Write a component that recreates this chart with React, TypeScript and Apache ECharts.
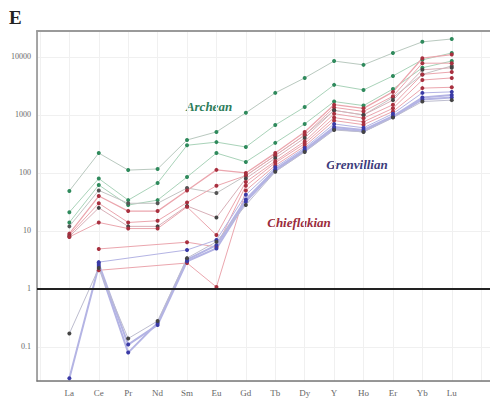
import React, { useEffect, useRef } from "react";
import * as echarts from "echarts";

const elements = ["La", "Ce", "Pr", "Nd", "Sm", "Eu", "Gd", "Tb", "Dy", "Y", "Ho", "Er", "Yb", "Lu"];
const yTickLabels: Record<string, string> = { "-1": "0.1", "0": "1", "1": "10", "2": "100", "3": "1000", "4": "10000" };

// Archean
const archean1 = [49, 220, 112, 117, 370, 510, 1090, 2400, 4350, 8500, 7300, 11700, 18200, 20400];
const archean2 = [21, 80, 34, 67, 300, 340, 280, 670, 1370, 3300, 2700, 4700, 8900, 11700];
const archean3 = [14, 62, 28, 34, 85, 220, 155, 330, 700, 1700, 1450, 2800, 6500, 8500];
const archean4 = [12, 50, 30, 30, 55, 45, 90, 200, 450, 1200, 1000, 2000, 5000, 7000];
// Chieflakian
const chief1 = [9, 40, 22, 22, 50, 113, 100, 220, 510, 1500, 1300, 2500, 9500, 11000];
const chief2 = [8.5, 30, 14, 15, 31, 60, 90, 200, 450, 1350, 1150, 2100, 7800, 7800];
const chief3 = [8, 25, 12, 12, 27, 17, 80, 180, 400, 1200, 1000, 1800, 6000, 6500];
const chief4 = [7.9, 14, 11, 11, 26, 8.5, 70, 160, 350, 1050, 880, 1500, 5000, 5500];
const chief5 = [null, 4.9, null, null, 6.4, 5.3, 60, 150, 320, 900, 760, 1300, 4000, 4350];
const chief6 = [null, 2.1, null, null, 2.8, 1.08, 50, 135, 290, 800, 680, 1150, 2900, 3000];
// Grenvillian
const gren1 = [null, 2.9, null, null, 4.7, 7, 42, 125, 270, 700, 600, 1050, 2400, 2500];
const gren2 = [0.029, 2.5, 0.08, 0.26, 3.2, 5.7, 35, 115, 250, 620, 550, 950, 2000, 2200];
const gren3 = [null, 2.7, 0.11, 0.24, 3.0, 5.0, 32, 110, 240, 580, 520, 920, 1850, 2000];
const gren4 = [0.17, 2.3, 0.14, 0.28, 3.4, 6.5, 28, 105, 230, 550, 510, 900, 1700, 1800];

const referenceLine = 1;

function mk(name: string, vals: (number | null)[], line: string, sym: string, width = 1) {
  return {
    name,
    type: "line",
    data: vals.map((v, i) => (v == null ? null : [i, v])).filter((d) => d !== null),
    symbol: "circle",
    symbolSize: 4,
    lineStyle: { color: line, width },
    itemStyle: { color: sym },
    silent: true,
  };
}

export default function App() {
  const ref = useRef<HTMLDivElement>(null);
  useEffect(() => {
    if (!ref.current) return;
    const chart = echarts.init(ref.current, null, { renderer: "svg" });
    const gLine = "#a9d3b9", gSym = "#2f8a5c";
    const rLine = "#eba6ae", rSym = "#a8303f";
    const bLine = "#b4b4e4", bSym = "#3a3aa6";
    const series: any[] = [
      mk("A1", archean1, "#b9c9bf", gSym),
      mk("A2", archean2, gLine, gSym),
      mk("A3", archean3, gLine, gSym),
      mk("A4", archean4, "#c4c4c4", "#555"),
      mk("C1", chief1, rLine, rSym, 1.3),
      mk("C2", chief2, rLine, rSym),
      mk("C3", chief3, "#d8b0b8", "#444"),
      mk("C4", chief4, rLine, rSym),
      mk("C5", chief5, rLine, rSym),
      mk("C6", chief6, rLine, rSym),
      mk("G1", gren1, bLine, bSym),
      mk("G2", gren2, bLine, bSym, 2),
      mk("G3", gren3, bLine, bSym, 2),
      mk("G4", gren4, "#bdbdcf", "#444"),
    ];
    series.push({
      type: "line",
      data: [],
      silent: true,
      markLine: {
        silent: true,
        symbol: ["none", "none"],
        label: { show: false },
        lineStyle: { color: "#222", width: 2, type: "solid" },
        data: [{ yAxis: referenceLine }],
      },
    });
    const xLabelFmt = (v: number) => {
      const i = Math.round(v);
      return Math.abs(v - i) < 1e-6 && i >= 0 && i < elements.length ? elements[i] : "";
    };
    chart.setOption({
      animation: false,
      backgroundColor: "#fff",
      grid: { left: 37, right: -5, top: 31, bottom: 24, show: false },
      xAxis: [
        {
          type: "value",
          min: -1.1,
          max: 14.3,
          splitNumber: 15,
          axisLine: { show: true, onZero: false, lineStyle: { color: "#777", width: 1.5 } },
          axisTick: { show: false },
          splitLine: { show: true, lineStyle: { color: "#f0f0f0" } },
          axisLabel: {
            showMinLabel: false,
            showMaxLabel: false,
            margin: 7,
            color: "#666",
            fontFamily: "Liberation Serif",
            fontSize: 9,
            formatter: xLabelFmt,
          },
        },
        {
          type: "value",
          position: "top",
          min: -1.1,
          max: 14.3,
          axisLine: { show: true, onZero: false, lineStyle: { color: "#9a9a9a", width: 2 } },
          axisTick: { show: false },
          splitLine: { show: false },
          axisLabel: { show: false },
        },
      ],
      yAxis: {
        type: "log",
        min: 0.0259,
        max: 28000,
        logBase: 10,
        splitNumber: 6,
        axisLine: { show: true, onZero: false, lineStyle: { color: "#8a8a8a", width: 1.5 } },
        axisTick: { show: false },
        splitLine: { show: true, lineStyle: { color: "#f0f0f0" } },
        axisLabel: {
          margin: 6,
          color: "#666",
          fontFamily: "Liberation Serif",
          fontSize: 8,
          formatter: (v: number) => {
            const l = Math.log10(v);
            const r = Math.round(l);
            return Math.abs(l - r) < 1e-6 ? yTickLabels[String(r)] ?? "" : "";
          },
        },
      },
      graphic: [
        { type: "text", left: 9, top: 8, style: { text: "E", font: "bold 19px 'Liberation Serif'", fill: "#222" } },
        { type: "text", x: 209, y: 106, style: { text: "Archean", font: "italic bold 13px 'Liberation Serif'", fill: "#2e7d5b", align: "center", verticalAlign: "middle" } },
        { type: "text", x: 357, y: 164, style: { text: "Grenvillian", font: "italic bold 13px 'Liberation Serif'", fill: "#3d3d7c", align: "center", verticalAlign: "middle" } },
        { type: "text", x: 299, y: 222, style: { text: "Chieflakian", font: "italic bold 13px 'Liberation Serif'", fill: "#9b2c3c", align: "center", verticalAlign: "middle" } },
      ],
      series,
    });
    return () => chart.dispose();
  }, []);
  return <div ref={ref} style={{ width: 490, height: 405, position: "absolute", left: 0, top: 0 }} />;
}
